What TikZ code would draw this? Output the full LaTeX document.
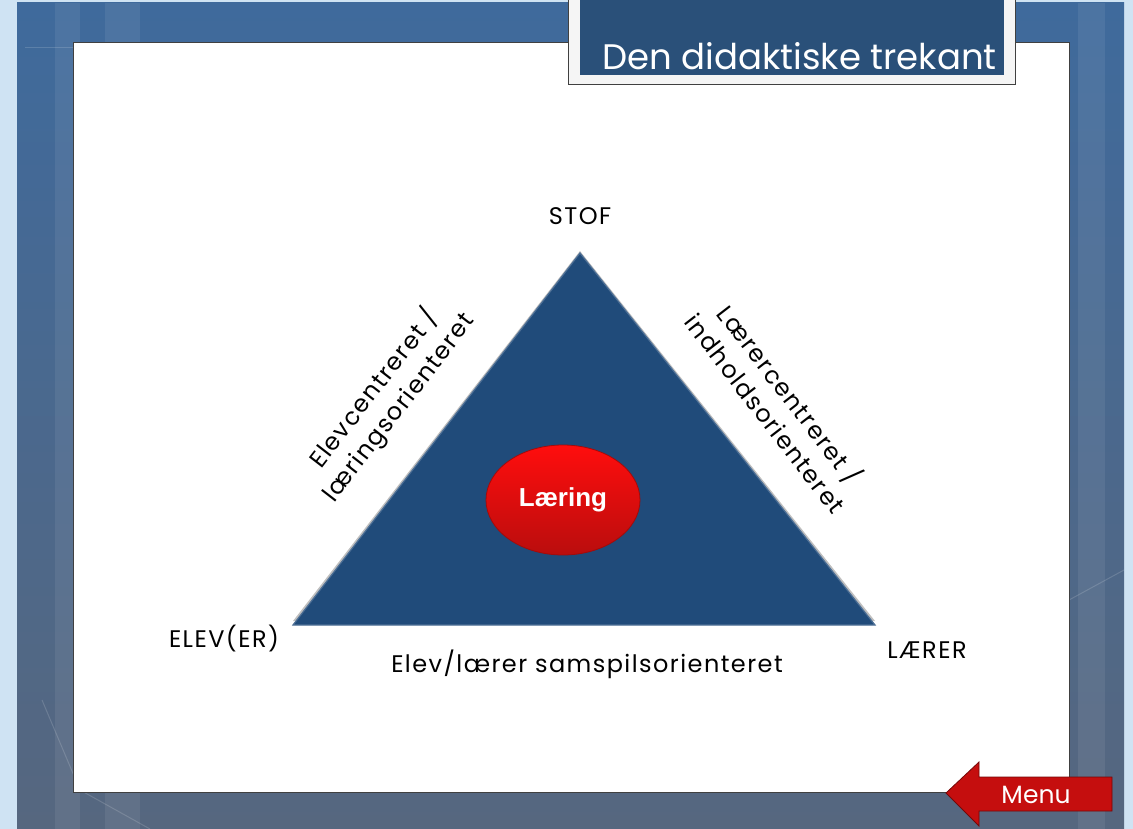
\documentclass[tikz,border=0pt]{standalone}
\usepackage{fontspec}
\setmainfont{Poppins}[LetterSpace=6]
\newfontfamily\titlefont{Poppins}
\newfontfamily\boldsans{Liberation Sans}
\usetikzlibrary{shapes.geometric}
\definecolor{paleblue}{HTML}{CFE3F3}
\definecolor{framebluetop}{HTML}{3F6A9C}
\definecolor{framebluebot}{HTML}{56677F}
\definecolor{titleblue}{HTML}{2A5079}
\definecolor{trianglefill}{HTML}{204B7A}
\definecolor{learnred}{HTML}{E81010}
\begin{document}
\begin{tikzpicture}[x=1pt,y=-1pt,
    corner label/.style={font=\fontsize{24}{27}\selectfont, text=black},
    side label/.style={font=\fontsize{24}{31}\selectfont, align=center, text=black, inner sep=1pt},
    band/.style={fill=white, opacity=0.07}]
  % background and frame
  \useasboundingbox (0,0) rectangle (1133,829);
  \fill[paleblue] (0,0) rectangle (1133,829);
  \shade[top color=framebluetop, bottom color=framebluebot] (17,3) rectangle (1124,829);
  \fill[band] (55,3) rectangle (80,829);
  \fill[band] (105,3) rectangle (140,829);
  \fill[band] (1078,3) rectangle (1105,829);
  \draw[white, opacity=0.15, line width=1pt] (25,48) -- (73,48);
  \draw[white, opacity=0.15, line width=1pt] (42,700) -- (80,790) -- (150,829);
  \draw[white, opacity=0.15, line width=1pt] (1069,600) -- (1124,570);
  % white slide panel
  \draw[fill=white, draw=black!75, line width=1pt] (73,43) rectangle (1069,792);
  % title box
  \draw[fill=white!96!black, draw=black!75, line width=1pt] (568,-2) rectangle (1015,85);
  \node[fill=titleblue, minimum width=424pt, minimum height=78pt, anchor=north west,
    inner sep=0pt] (titlebox) at (580,-3) {};
  \node[anchor=base east, text=white, font=\titlefont\fontsize{35.5}{38}\selectfont, inner sep=0pt]
    (title) at (997,70) {Den didaktiske trekant};
  % triangle
  \coordinate (top) at (580,253);
  \coordinate (left) at (293,625);
  \coordinate (right) at (875,625);
  \fill[black, opacity=0.25] ([yshift=4pt]left) -- ([yshift=4pt]right) -- ([yshift=2pt]top) -- cycle;
  \fill[trianglefill, draw=trianglefill!80!white, line width=1.2pt] (top) -- (right) -- (left) -- cycle;
  % centre
  \node[ellipse, top color=red!95!white, bottom color=learnred!80!black,
    draw=learnred!70!black, line width=0.8pt,
    minimum width=154pt, minimum height=110pt, text=white,
    font=\boldsans\bfseries\fontsize{26}{30}\selectfont] (laering) at (563,500) {Læring};
  % corner labels
  \node[corner label] (stof) at (580,216) {STOF};
  \node[corner label] (elev) at (224,639) {ELEV(ER)};
  \node[corner label] (laerer) at (927,650) {LÆRER};
  % side labels
  \node[side label, rotate=52.3] (elevside) at (386,398) {Elevcentreret /\\læringsorienteret};
  \node[side label, rotate=-52.3] (laererside) at (779,403) {Lærercentreret /\\indholdsorienteret};
  \node[side label] (bund) at (587,664) {Elev/lærer samspilsorienteret};
  % menu arrow
  \fill[learnred!85!black, draw=learnred!50!black, line width=0.8pt]
    (946,793) -- (979,762) -- (979,777) -- (1112,777) -- (1112,811) -- (979,811) -- (979,826) -- cycle;
  \node[text=white, font=\titlefont\fontsize{25}{28}\selectfont] (menu) at (1036,795) {Menu};
\end{tikzpicture}
\end{document}
